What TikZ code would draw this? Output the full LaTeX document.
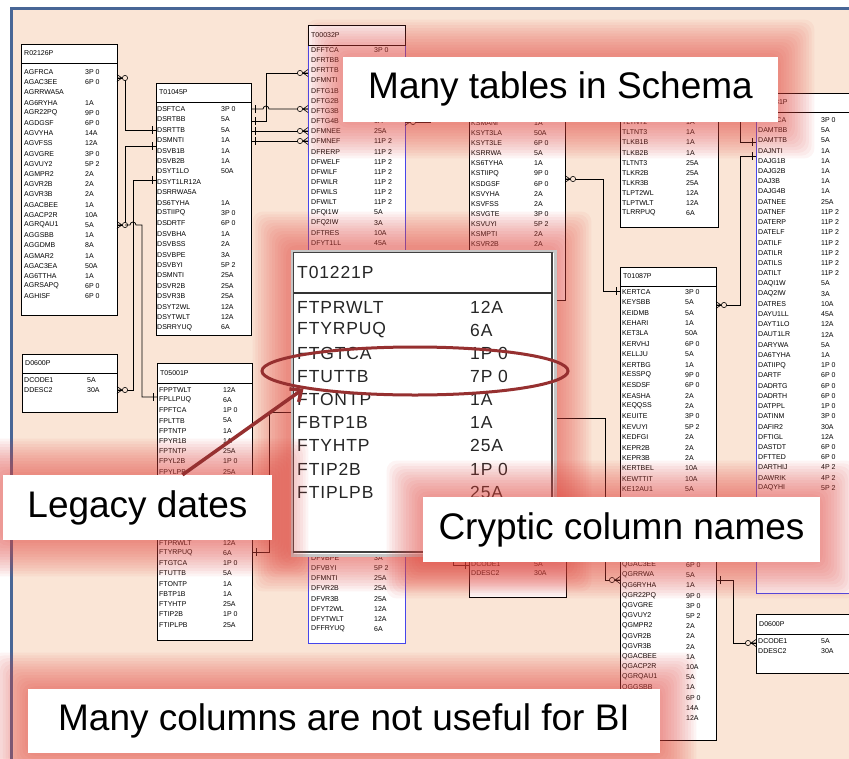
\documentclass[tikz,border=0pt]{standalone}
\usepackage{fontspec}
\setmainfont{Liberation Sans}
\newfontfamily\popfont[LetterSpace=5]{Liberation Sans}
\usetikzlibrary{arrows.meta,shapes.geometric,positioning}

\definecolor{peach}{RGB}{250,229,214}
\definecolor{frameblue}{RGB}{72,102,150}
\definecolor{erblue}{RGB}{70,70,235}
\definecolor{glowred}{RGB}{228,70,62}
\definecolor{markred}{RGB}{150,48,48}

\tikzset{
  tbox/.style={draw, fill=white, line width=0.7pt, inner sep=0, outer sep=0},
  fld/.style={anchor=west, inner sep=0, font=\fontsize{7}{7}\selectfont},
  ttl/.style={anchor=west, inner sep=0, font=\fontsize{7}{7}\selectfont},
  big/.style={anchor=west, inner sep=0, text=black!85, font=\popfont\fontsize{17.5}{18}\selectfont},
  rel/.style={line width=0.75pt},
  callout/.style={fill=white, inner sep=0, minimum height=65pt, font=\fontsize{37}{37}\selectfont},
  crow/.pic={\draw[line width=.6pt] (-5,0) -- (0,-3.5) (-5,0) -- (0,0) (-5,0) -- (0,3.5);
             \draw[line width=.6pt, fill=peach] (-8,0) circle (2.6pt);},
  one/.pic={\draw[line width=.6pt] (-4,-4) -- (-4,4);},
}

% table box: name, left, top, right, header bottom, bottom, title, side colour
\newcommand\erbox[8]{%
  \node[tbox, draw=#8, anchor=north west, minimum width={#4-#2}, minimum height={#6-#3}] (#1) at (#2,#3) {};
  \draw[line width=0.7pt, fill=white] (#2,#3) rectangle (#4,#5);
  \node[ttl] (#1-ttl) at ({#2+3},{(#3+#5)/2}) {#7};
}
% fields: [style] prefix, name x, type x, first y, step, list
\newcommand\fields[7][fld]{%
  \foreach \k/\nm/\ty in {#7}{%
    \node[#1] (#2-n\k) at (#3,{#5+\k*#6}) {\nm};
    \node[#1] (#2-t\k) at (#4,{#5+\k*#6}) {\ty};
  }}
% red halo round a callout
\newcommand\glow[4]{%
  \foreach \g in {1,...,13}{\fill[glowred, opacity=.055, rounded corners=10pt]
    ({#1-2.8*\g},{#2-2.8*\g}) rectangle ({#3+2.8*\g},{#4+2.8*\g});}}

\begin{document}
\begin{tikzpicture}[x=1pt,y=-1pt]
\useasboundingbox (0,0) rectangle (849,758);
\fill[white] (0,0) rectangle (849,758);
\fill[peach] (11.5,8) rectangle (860,770);
\draw[frameblue, line width=3pt] (11.5,770) -- (11.5,8) -- (860,8);

% tables
\erbox{r02126}{21}{44}{117}{63}{315}{R02126P}{black}
\fields{r02126}{24}{85}{72}{10.2}{0/AGFRCA/3P 0,1/AGAC3EE/6P 0,2/AGRRWA5A/{},3/AG6RYHA/1A,4/AGR22PQ/9P 0,5/AGDGSF/6P 0,6/AGVYHA/14A,7/AGVFSS/12A,8/AGVGRE/3P 0,9/AGVUY2/5P 2,10/AGMPR2/2A,11/AGVR2B/2A,12/AGVR3B/2A,13/AGACBEE/1A,14/AGACP2R/10A,15/AGRQAU1/5A,16/AGGSBB/1A,17/AGGDMB/8A,18/AGMAR2/1A,19/AGAC3EA/50A,20/AG6TTHA/1A,21/AGRSAPQ/6P 0,22/AGHISF/6P 0}

\erbox{t01045}{156}{83}{251}{102}{335}{T01045P}{black}
\fields{t01045}{157}{221}{109}{10.4}{0/DSFTCA/3P 0,1/DSRTBB/5A,2/DSRTTB/5A,3/DSMNTI/1A,4/DSVB1B/1A,5/DSVB2B/1A,6/DSYT1LO/50A,7/DSYT1LR12A/{},8/DSRRWA5A/{},9/DS6TYHA/1A,10/DSTIIPQ/3P 0,11/DSDRTF/6P 0,12/DSVBHA/1A,13/DSVBSS/2A,14/DSVBPE/3A,15/DSVBYI/5P 2,16/DSMNTI/25A,17/DSVR2B/25A,18/DSVR3B/25A,19/DSYT2WL/12A,20/DSYTWLT/12A,21/DSRRYUQ/6A}

\erbox{t00032}{308}{25}{405}{45}{643}{T00032P}{erblue}
\fields{t00032}{311}{374}{50}{10.16}{0/DFFTCA/3P 0,1/DFRTBB/{},2/DFRTTB/{},3/DFMNTI/{},4/DFTG1B/{},5/DFTG2B/{},6/DFTG3B/{},7/DFTG4B/1A,8/DFMNEE/25A,9/DFMNEF/11P 2,10/DFRERP/11P 2,11/DFWELF/11P 2,12/DFWILF/11P 2,13/DFWILR/11P 2,14/DFWILS/11P 2,15/DFWILT/11P 2,16/DFQI1W/5A,17/DFQ2IW/3A,18/DFTRES/10A,19/DFYT1LL/45A,50/DFVBPE/3A,51/DFVBYI/5P 2,52/DFMNTI/25A,53/DFVR2B/25A,54/DFVR3B/25A,55/DFYT2WL/12A,56/DFYTWLT/12A,57/DFFRYUQ/6A}

\erbox{d0600a}{22}{354}{117}{373}{412}{D0600P}{black}
\fields{d0600a}{24}{87}{380}{10}{0/DCODE1/5A,1/DDESC2/30A}

\erbox{t05001}{157}{363}{252}{383}{640}{T05001P}{black}
\fields{t05001}{159}{223}{390}{10.2}{0/FPPTWLT/12A,1/FPLLPUQ/6A,2/FPFTCA/1P 0,3/FPLTTB/5A,4/FPTNTP/1A,5/FPYR1B/1A,6/FPTNTP/25A,7/FPYL2B/1P 0,8/FPYLPB/25A,15/FTPRWLT/12A,16/FTYRPUQ/6A,17/FTGTCA/1P 0,18/FTUTTB/5A,19/FTONTP/1A,20/FBTP1B/1A,21/FTYHTP/25A,22/FTIP2B/1P 0,23/FTIPLPB/25A}

\erbox{t01062}{469}{60}{565}{78}{300}{}{black}
\fields{t01062}{471}{534}{123}{10.1}{0/KSMANI/1A,1/KSYT3LA/50A,2/KSYT3LE/6P 0,3/KSRRWA/5A,4/KS6TYHA/1A,5/KSTIIPQ/9P 0,6/KSDGSF/6P 0,7/KSVYHA/2A,8/KSVFSS/2A,9/KSVGTE/3P 0,10/KSVUYI/5P 2,11/KSMPTI/2A,12/KSVR2B/2A}

\erbox{t01077}{620}{66}{718}{86}{227}{}{black}
\fields{t01077}{622}{686}{92}{10.1}{3/TLTNT2/1A,4/TLTNT3/1A,5/TLKB1B/1A,6/TLKB2B/1A,7/TLTNT3/25A,8/TLKR2B/25A,9/TLKR3B/25A,10/TLPT2WL/12A,11/TLPTWLT/12A,12/TLRRPUQ/6A}

\erbox{t00031}{756}{93}{870}{112}{593}{T00031P}{erblue}
\fields{t00031}{758}{821}{120}{10.22}{0/DAFTCA/3P 0,1/DAMTBB/5A,2/DAMTTB/5A,3/DAJNTI/1A,4/DAJG1B/1A,5/DAJG2B/1A,6/DAJ3B/1A,7/DAJG4B/1A,8/DATNEE/25A,9/DATNEF/11P 2,10/DATERP/11P 2,11/DATELF/11P 2,12/DATILF/11P 2,13/DATILR/11P 2,14/DATILS/11P 2,15/DATILT/11P 2,16/DAQI1W/5A,17/DAQ2IW/3A,18/DATRES/10A,19/DAYU1LL/45A,20/DAYT1LO/12A,21/DAUT1LR/12A,22/DARYWA/5A,23/DA6TYHA/1A,24/DATIIPQ/1P 0,25/DARTF/6P 0,26/DADRTG/6P 0,27/DADRTH/6P 0,28/DATPPL/1P 0,29/DATINM/3P 0,30/DAFIR2/30A,31/DFTIGL/12A,32/DASTDT/6P 0,33/DFTTED/6P 0,34/DARTHIJ/4P 2,35/DAWRIK/4P 2,36/DAQYHI/5P 2}

\erbox{t01087}{620}{267}{716}{286}{740}{T01087P}{black}
\fields{t01087}{622}{685}{292}{10.37}{0/KERTCA/3P 0,1/KEYSBB/5A,2/KEIDMB/5A,3/KEHARI/1A,4/KET3LA/50A,5/KERVHJ/6P 0,6/KELLJU/5A,7/KERTBG/1A,8/KESSPQ/9P 0,9/KESDSF/6P 0,10/KEASHA/2A,11/KEQQSS/2A,12/KEUITE/3P 0,13/KEVUYI/5P 2,14/KEDFGI/2A,15/KEPR2B/2A,16/KEPR3B/2A,17/KERTBEL/10A,18/KEWTTIT/10A,19/KE12AU1/5A}
\fields{qg}{622}{686}{565}{10.2}{0/QGAC3EE/6P 0,1/QGRRWA/5A,2/QG6RYHA/1A,3/QGR22PQ/9P 0,4/QGVGRE/3P 0,5/QGVUY2/5P 2,6/QGMPR2/2A,7/QGVR2B/2A,8/QGVR3B/2A,9/QGACBEE/1A,10/QGACP2R/10A,11/QGRQAU1/5A,12/QGGSBB/1A,13/{}/6P 0,14/{}/14A,15/{}/12A}

\erbox{d0600b}{469}{538}{566}{557}{597}{}{black}
\fields{d0600b}{471}{534}{564}{9.5}{0/DCODE1/5A,1/DDESC2/30A}

\erbox{d0600c}{756}{614}{870}{634}{673}{D0600P}{black}
\fields{d0600c}{758}{821}{641}{10}{0/DCODE1/5A,1/DDESC2/30A}

% relationships, left group
\draw[rel] (r02126.east |- 0,78) -| (125,130) -- (t01045.west |- 0,130);
\pic[xscale=-1] at (r02126.east |- 0,78) {crow};
\pic at (t01045.west |- 0,130) {one};
\draw[rel] (r02126.east |- 0,225) -| (125,146) -- (t01045.west |- 0,146);
\pic[xscale=-1] at (r02126.east |- 0,225) {crow};
\pic at (t01045.west |- 0,146) {one};
\draw[rel] (d0600a.east |- 0,390) -| (133,180) -- (t01045.west |- 0,180);
\pic[xscale=-1] at (d0600a.east |- 0,390) {crow};
\pic at (t01045.west |- 0,180) {one};
\draw[rel] (125,225) -- (130,225) arc[start angle=180, end angle=360, radius=3] -- (142,225) |- (t05001.west |- 0,397);
\pic at (t05001.west |- 0,397) {one};

% T01045P to T00032P
\draw[rel] (t01045.east |- 0,109) -- (263,109) arc[start angle=180, end angle=360, radius=3] -- (t00032.west |- 0,109);
\draw[rel] (t01045.east |- 0,121) -| (266,73) -- (t00032.west |- 0,73);
\draw[rel] (t01045.east |- 0,131) -- (t00032.west |- 0,131);
\draw[rel] (t01045.east |- 0,141) -- (t00032.west |- 0,141);
\foreach \yy in {109,121,131,141} \pic[xscale=-1] at (t01045.east |- 0,\yy) {one};
\foreach \yy in {73,109,131,141} \pic at (t00032.west |- 0,\yy) {crow};

\draw[rel] (t00032.east |- 0,122) -- (430,122) -- (430,100);
\pic[xscale=-1] at (t00032.east |- 0,122) {crow};
\draw[rel] (t05001.east |- 0,552) -| (269,412) -- (300,412);
\pic[xscale=-1] at (t05001.east |- 0,552) {one};

% right group
\draw[rel] (t01062.east |- 0,179) -| (603,291) -- (t01087.west |- 0,291);
\pic[xscale=-1] at (t01062.east |- 0,179) {crow};
\pic at (t01087.west |- 0,291) {one};
\draw[rel] (t01087.east |- 0,305) -| (740,156) -- (t00031.west |- 0,156);
\pic[xscale=-1] at (t01087.east |- 0,305) {crow};
\pic at (t00031.west |- 0,156) {one};
\draw[rel] (t01077.east |- 0,112) -| (740,142) -- (t00031.west |- 0,142);
\pic at (t00031.west |- 0,142) {one};
\draw[rel] (550,418) -| (605,580) -- (t01087.west |- 0,580);
\pic at (t01087.west |- 0,580) {crow};
\draw[rel] (t01087.east |- 0,580) -| (733,643) -- (d0600c.west |- 0,643);
\pic[xscale=-1] at (t01087.east |- 0,580) {one};
\pic at (d0600c.west |- 0,643) {crow};
\draw[rel] (453,545) |- (d0600b.west |- 0,565);
\pic at (d0600b.west |- 0,565) {one};

% zoomed table
\glow{289}{248}{555}{555}
\node[fill=white, draw=gray!45, line width=3pt, anchor=north west, inner sep=0,
      minimum width=263pt, minimum height=304pt] (t01221) at (290.5,249.5) {};
\draw[black!75, line width=1.3pt] (293.5,252.5) rectangle (552,552);
\draw[black!80, line width=1.3pt] (293.5,293) -- (552,293);
\node[big] (t01221-ttl) at (297,272) {T01221P};
\fields[big]{pop}{297}{470}{307}{23.15}{0/FTPRWLT/12A,1/FTYRPUQ/6A,2/FTGTCA/1P 0,3/FTUTTB/7P 0,4/FTONTP/1A,5/FBTP1B/1A,6/FTYHTP/25A,7/FTIP2B/1P 0,8/FTIPLPB/25A}

% callouts
\glow{343}{56}{778}{122}
\node[callout, minimum width=435pt] (many) at (560.5,89) {Many tables in Schema};
\glow{3}{475}{272}{540}
\node[callout, minimum width=269pt] (legacy) at (137.5,507.5) {Legacy dates};
\glow{423}{497}{820}{562}
\node[callout, minimum width=397pt] (cryptic) at (621.5,529.5) {Cryptic column names};
\glow{28}{689}{660}{753}
\node[callout, minimum width=632pt, minimum height=64pt] (useless) at (344,721) {Many columns are not useful for BI};

\node[draw=markred, line width=3pt, ellipse, inner sep=0, minimum width=306pt, minimum height=48pt] (ring) at (415,371) {};
\draw[markred, line width=3.5pt, -{Straight Barb[length=9pt,width=16pt]}] ([xshift=45pt]legacy.north) -- (ring.189);
\end{tikzpicture}
\end{document}
